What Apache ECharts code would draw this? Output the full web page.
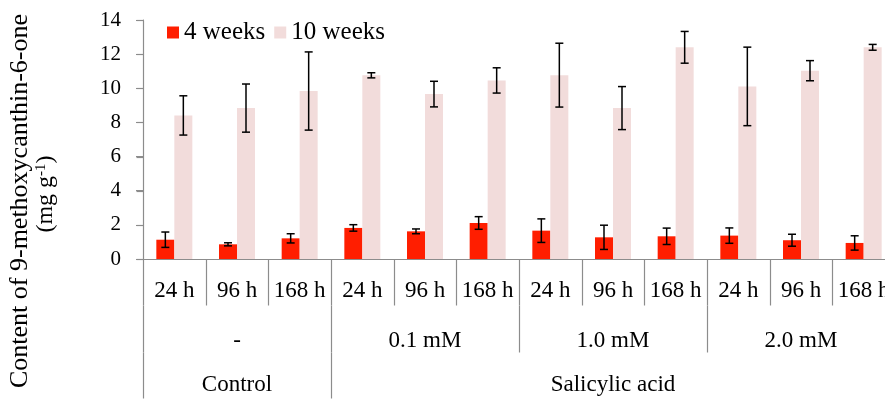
<!DOCTYPE html>
<html>
<head>
<meta charset="utf-8">
<script src="https://cdn.jsdelivr.net/npm/echarts@6/dist/echarts.min.js"></script>
<style>
    html,body{margin:0;padding:0;overflow:hidden;background:#fff;}
    #chart{width:900px;height:401px;}
</style>
</head>
<body>
<div id="chart"></div>
<script>
// 数据
var categories = ['24 h', '96 h', '168 h', '24 h', '96 h', '168 h', '24 h', '96 h', '168 h', '24 h', '96 h', '168 h'];
var concLabels = ['', '-', '', '', '0.1 mM', '', '', '1.0 mM', '', '', '2.0 mM', ''];
var groupLabels = ['', 'Control', '', '', '', '', '', 'Salicylic acid', '', '', '', ''];
var yTicks = [0, 2, 4, 6, 8, 10, 12, 14];

var weeks4 = [1.13, 0.86, 1.21, 1.82, 1.62, 2.11, 1.66, 1.27, 1.33, 1.37, 1.10, 0.94];
var weeks4Err = [0.45, 0.09, 0.27, 0.19, 0.14, 0.37, 0.69, 0.71, 0.48, 0.45, 0.35, 0.42];
var weeks10 = [8.41, 8.84, 9.84, 10.76, 9.66, 10.46, 10.77, 8.84, 12.40, 10.11, 11.03, 12.40];
var weeks10Err = [1.15, 1.41, 2.29, 0.15, 0.75, 0.74, 1.87, 1.26, 0.93, 2.30, 0.59, 0.17];

var FONT = 'Liberation Serif';
var AXIS_GRAY = '#8c8c8c';
var ROW_H = [46, 93, 139];   // 三行标签分隔线的下端(相对x轴)

// 误差线数据 [index, low, high]
function errData(vals, errs) {
    return vals.map(function (v, i) {
        return [i, v - errs[i], v + errs[i]];
    });
}

// 误差线绘制，offset是柱子中心相对类目中心的偏移
function errorBars(offset) {
    return function (params, api) {
        var x = api.value(0);
        var lo = api.coord([x, api.value(1)]);
        var hi = api.coord([x, api.value(2)]);
        var cx = lo[0] + offset;
        var cap = 4;
        return {
            type: 'group',
            children: [
                {type: 'line', shape: {x1: cx, y1: lo[1], x2: cx, y2: hi[1]}, style: {stroke: '#000', lineWidth: 1.5}},
                {type: 'line', shape: {x1: cx - cap, y1: lo[1], x2: cx + cap, y2: lo[1]}, style: {stroke: '#000', lineWidth: 1.5}},
                {type: 'line', shape: {x1: cx - cap, y1: hi[1], x2: cx + cap, y2: hi[1]}, style: {stroke: '#000', lineWidth: 1.5}}
            ]
        };
    };
}

// 坐标轴线和多级分隔线（每个类目画左边界），坐标取半像素让1px线清晰
function axisFrame(params, api) {
    var i = api.value(0);
    var c = api.coord([i, 0]);
    var band = api.size([1, 0])[0];
    var left = Math.round(c[0] - band / 2) + 0.5;
    var right = Math.round(c[0] + band / 2) + 0.5;
    var y0 = Math.round(c[1]) + 0.5;
    var ch = [];
    function seg(x1, y1, x2, y2) {
        ch.push({
            type: 'line',
            shape: {x1: x1, y1: y1, x2: x2, y2: y2},
            style: {stroke: AXIS_GRAY, lineWidth: 1.2, fill: null}
        });
    }
    if (i === 0) {
        var yTop = Math.round(api.coord([0, yTicks[yTicks.length - 1]])[1]) + 0.5;
        seg(left, yTop, left, y0);
        yTicks.forEach(function (t) {
            var ty = Math.round(api.coord([0, t])[1]) + 0.5;
            seg(left - 7, ty, left, ty);
        });
    }
    seg(left, y0, right, y0);
    seg(left, y0, left, y0 + ROW_H[0]);
    if (i % 3 === 0) seg(left, y0 + ROW_H[0], left, y0 + ROW_H[1]);
    if (i === 0 || i === 3) seg(left, y0 + ROW_H[1], left, y0 + ROW_H[2]);
    return {type: 'group', children: ch};
}

var chart = echarts.init(document.getElementById('chart'));
var option = {
    animation: false,
    grid: {left: 143, top: 20, right: 5, bottom: 142},
    legend: {
        data: ['4 weeks', '10 weeks'],
        left: 162,
        top: 15,
        itemWidth: 12,
        itemHeight: 12,
        itemGap: 9,
        icon: 'rect',
        textStyle: {fontFamily: FONT, fontSize: 25, color: '#000'}
    },
    graphic: [
        {
            type: 'text', x: 20, y: 201, rotation: Math.PI / 2,
            style: {text: 'Content of 9-methoxycanthin-6-one', font: '26px "Liberation Serif"', fill: '#000', align: 'center', verticalAlign: 'middle'}
        },
        {
            type: 'text', x: 46, y: 194, rotation: Math.PI / 2,
            style: {
                text: '{n|(mg g}{s|-1}{n|)}',
                align: 'center', verticalAlign: 'middle',
                rich: {
                    n: {fontFamily: FONT, fontSize: 24, color: '#000'},
                    s: {fontFamily: FONT, fontSize: 15, color: '#000', verticalAlign: 'top', padding: [0, 0, 10, 0]}
                }
            }
        }
    ],
    xAxis: [
        {
            type: 'category',
            data: categories,
            axisLine: {show: true, onZero: false, lineStyle: {color: AXIS_GRAY, width: 1}},
            axisTick: {show: false},
            axisLabel: {interval: 0, margin: 20, fontSize: 23, color: '#000', fontFamily: FONT}
        },
        {
            type: 'category',
            data: concLabels,
            position: 'bottom',
            offset: 46,
            axisLine: {show: false},
            axisTick: {show: false},
            axisLabel: {interval: 0, margin: 24, fontSize: 23, color: '#000', fontFamily: FONT}
        },
        {
            type: 'category',
            data: groupLabels,
            position: 'bottom',
            offset: 93,
            axisLine: {show: false},
            axisTick: {show: false},
            axisLabel: {interval: 0, margin: 21, fontSize: 23, color: '#000', fontFamily: FONT}
        }
    ],
    yAxis: {
        type: 'value',
        min: yTicks[0],
        max: yTicks[yTicks.length - 1],
        interval: 2,
        splitLine: {show: false},
        axisLine: {show: true, onZero: false, lineStyle: {color: AXIS_GRAY, width: 1}},
        axisTick: {show: true, length: 7, lineStyle: {color: AXIS_GRAY, width: 1}},
        axisLabel: {margin: 22, fontSize: 21, color: '#000', fontFamily: FONT}
    },
    series: [
        {
            name: '4 weeks', type: 'bar', data: weeks4,
            barWidth: 18, barGap: '0%',
            itemStyle: {color: '#ff1e00'}
        },
        {
            name: '10 weeks', type: 'bar', data: weeks10,
            barWidth: 18,
            itemStyle: {color: '#f2dcdb'}
        },
        {
            // 轴线放到上层
            type: 'custom', renderItem: axisFrame, clip: false, silent: true,
            data: categories.map(function (c, i) { return [i]; }),
            encode: {x: 0}, z: 100, zlevel: 1
        },
        {
            type: 'custom', renderItem: errorBars(-9), data: errData(weeks4, weeks4Err),
            encode: {x: 0, y: [1, 2]}, z: 10
        },
        {
            type: 'custom', renderItem: errorBars(9), data: errData(weeks10, weeks10Err),
            encode: {x: 0, y: [1, 2]}, z: 10
        }
    ]
};
chart.setOption(option);
</script>
</body>
</html>
